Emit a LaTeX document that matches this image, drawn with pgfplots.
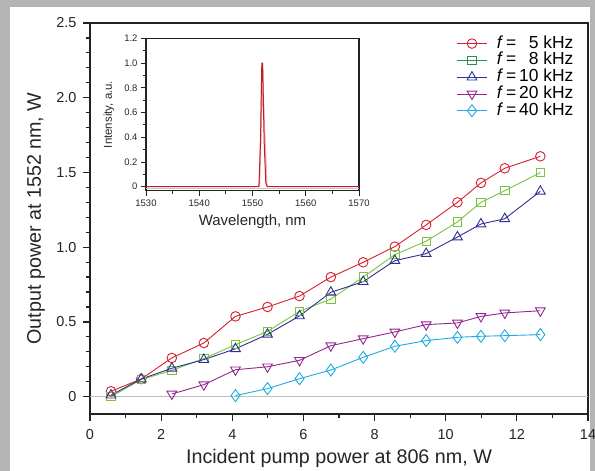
\documentclass[border=0pt]{standalone}
\usepackage{pgfplots}
\pgfplotsset{compat=1.18}
\usepackage{fontspec}
\setmainfont{Liberation Sans}

\definecolor{cred}{HTML}{D7202E}
\definecolor{cgreen}{HTML}{7CC242}
\definecolor{cdkgreen}{HTML}{2E8B57}
\definecolor{cblue}{HTML}{2E3192}
\definecolor{cpurple}{HTML}{93278F}
\definecolor{ccyan}{HTML}{1EADE3}
\definecolor{bggray}{HTML}{B4B4B4}
\definecolor{axgray}{HTML}{222222}

\begin{document}
\begin{tikzpicture}[x=1bp,y=1bp]
\useasboundingbox (0,0) rectangle (595,471);
\fill[bggray] (0,0) rectangle (595,471);
\fill[white] (10,0) rectangle (590,464);

% main axis
\begin{axis}[
    at={(90bp,57bp)}, anchor=south west,
    scale only axis, width=498bp, height=391bp,
    xmin=0, xmax=14, ymin=-0.116, ymax=2.5,
    xtick={0,2,...,14}, minor x tick num=1,
    ytick={0,0.5,1,1.5,2,2.5},
    yticklabels={0,0.5,1.0,1.5,2.0,2.5},
    minor y tick num=4,
    xtick pos=lower, ytick pos=left,
    tick align=outside,
    major tick length=7bp, minor tick length=4.5bp,
    axis line style={axgray, line width=1.6bp},
    every tick/.style={axgray, line width=1.2bp},
    /pgf/number format/assume math mode=true,
    tick label style={font=\fontsize{14.5}{14.5}\selectfont, text=black!85},
    xticklabel style={yshift=-5bp},
    yticklabel style={xshift=-3bp},
    xlabel={Incident pump power at 806 nm, W},
    ylabel={Output power at 1552 nm, W},
    label style={font=\fontsize{19.8}{19.8}\selectfont, text=black!85},
    xlabel style={at={([yshift=-44bp]rel axis cs:0.5,0)}, anchor=center},
    ylabel style={at={([xshift=-54bp]rel axis cs:0,0.5)}, anchor=center},
    legend style={at={([xshift=-11bp,yshift=-10bp]rel axis cs:1,1)}, anchor=north east,
        draw=none, fill=none, font=\fontsize{17.5}{17.5}\selectfont,
        row sep=0bp, nodes={inner sep=0.4bp, text height=12.5bp, text depth=3.5bp},
        /tikz/every odd column/.append style={column sep=9bp}},
    legend cell align=left,
    legend image code/.code={\draw[mark repeat=2,mark phase=2,#1] plot coordinates {(0bp,0bp) (15bp,0bp) (30bp,0bp)};},
    every axis plot/.append style={line width=0.9bp},
]
\addplot[gray!50, line width=0.8bp, forget plot] coordinates {(0,0) (14,0)};

% f = 5 kHz
\addplot[cred, mark=o, mark size=4.8bp, mark options={fill=white}, forget plot] coordinates {
(0.59,0.036) (1.44,0.118) (2.30,0.259) (3.20,0.359) (4.09,0.537) (4.99,0.600)
(5.89,0.673) (6.77,0.800) (7.68,0.899) (8.57,1.004) (9.45,1.149) (10.33,1.300)
(10.99,1.430) (11.66,1.528) (12.66,1.608)};
% f = 8 kHz
\addplot[cgreen, mark=square, mark size=4.2bp, mark options={fill=white}, forget plot] coordinates {
(0.59,0.000) (1.44,0.114) (2.30,0.176) (3.20,0.254) (4.09,0.348) (4.99,0.437)
(5.89,0.571) (6.77,0.653) (7.68,0.800) (8.57,0.950) (9.45,1.040) (10.33,1.169)
(10.99,1.300) (11.66,1.378) (12.66,1.499)};
% f = 10 kHz
\addplot[cblue, mark=triangle, mark size=5.6bp, mark options={fill=white}, forget plot] coordinates {
(0.59,0.010) (1.44,0.118) (2.30,0.190) (3.20,0.248) (4.09,0.320) (4.99,0.417)
(5.89,0.540) (6.77,0.698) (7.68,0.769) (8.57,0.910) (9.45,0.957) (10.33,1.068)
(10.99,1.155) (11.66,1.190) (12.66,1.374)};
% f = 20 kHz
\addplot[cpurple, mark=triangle, mark size=5.6bp, mark options={fill=white, rotate=180}, forget plot] coordinates {
(2.30,0.018) (3.20,0.080) (4.09,0.180) (4.99,0.200) (5.89,0.243) (6.77,0.341)
(7.68,0.388) (8.57,0.433) (9.45,0.482) (10.33,0.493) (10.99,0.537) (11.66,0.560)
(12.66,0.575)};
% f = 40 kHz
\addplot[ccyan, mark=diamond, mark size=6bp, mark options={fill=white}, forget plot] coordinates {
(4.09,0.007) (4.99,0.054) (5.89,0.120) (6.77,0.178) (7.68,0.263) (8.57,0.337)
(9.45,0.375) (10.33,0.397) (10.99,0.404) (11.66,0.408) (12.66,0.415)};

\addlegendimage{cred, line width=0.9bp, mark=o, mark size=4.8bp, mark options={fill=white}}
\addlegendentry{\textit{f}\,=\,\phantom{1}5 kHz}
\addlegendimage{cdkgreen, line width=0.9bp, mark=square, mark size=4.2bp, mark options={fill=white}}
\addlegendentry{\textit{f}\,=\,\phantom{1}8 kHz}
\addlegendimage{cblue, line width=0.9bp, mark=triangle, mark size=5.6bp, mark options={fill=white}}
\addlegendentry{\textit{f}\,=\,10 kHz}
\addlegendimage{cpurple, line width=0.9bp, mark=triangle, mark size=5.6bp, mark options={fill=white, rotate=180}}
\addlegendentry{\textit{f}\,=\,20 kHz}
\addlegendimage{ccyan, line width=0.9bp, mark=diamond, mark size=6bp, mark options={fill=white}}
\addlegendentry{\textit{f}\,=\,40 kHz}
\end{axis}

% inset spectrum
\begin{axis}[
    at={(146bp,280.3bp)}, anchor=south west,
    scale only axis, width=213bp, height=152.4bp,
    xmin=1530, xmax=1570, ymin=-0.032, ymax=1.2,
    xtick={1530,1540,...,1570}, minor x tick num=1,
    ytick={0,0.2,...,1.2},
    yticklabels={0,0.2,0.4,0.6,0.8,1.0,1.2},
    minor y tick num=1,
    xtick pos=lower, ytick pos=left,
    tick align=outside,
    major tick length=5bp, minor tick length=3bp,
    axis line style={axgray, line width=1.1bp},
    every tick/.style={axgray, line width=0.9bp},
    /pgf/number format/assume math mode=true,
    /pgf/number format/1000 sep={},
    tick label style={font=\fontsize{9.5}{9.5}\selectfont, text=black!85},
    xticklabel style={yshift=-1bp},
    xlabel={Wavelength, nm},
    ylabel={Intensity, a.u.},
    xlabel style={font=\fontsize{15}{15}\selectfont, text=black!85,
        at={([yshift=-31bp]rel axis cs:0.5,0)}, anchor=center},
    ylabel style={font=\fontsize{11.5}{11.5}\selectfont, text=black!85,
        at={([xshift=-37bp]rel axis cs:0,0.5)}, anchor=center},
]
\addplot[gray!45, line width=0.8bp] coordinates {(1530,-0.015) (1570,-0.015)};
\addplot[cred!35, line width=1.6bp] coordinates {
(1551.3,0) (1551.6,0.5) (1551.85,0.98) (1552.1,0.6) (1552.4,0.3) (1552.7,0)};
\addplot[cred!90!black, line width=1bp] coordinates {
(1530,0) (1551.2,0) (1551.5,0.35) (1551.75,1.0) (1551.9,1.0) (1552.2,0.35)
(1552.5,0.03) (1552.8,0) (1570,0)};
\end{axis}
\end{tikzpicture}
\end{document}
